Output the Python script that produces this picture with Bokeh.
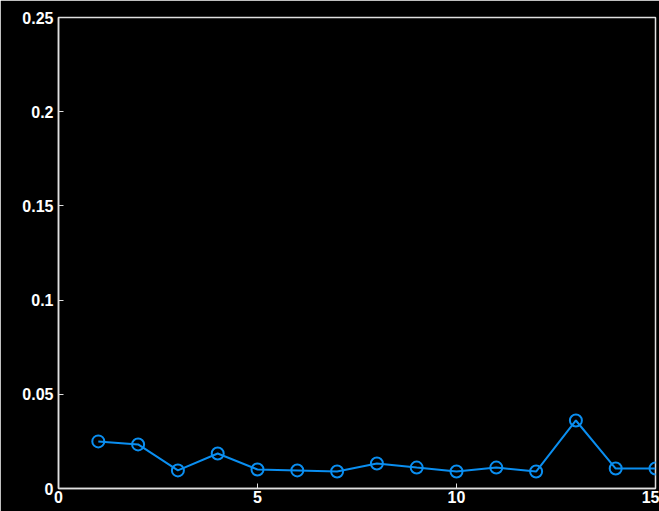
from bokeh.plotting import figure
from bokeh.embed import file_html
from bokeh.resources import INLINE
from bokeh.models import Range1d, FixedTicker

x_vals = [1, 2, 3, 4, 5, 6, 7, 8, 9, 10, 11, 12, 13, 14, 15]
y_vals = [0.0250, 0.0234, 0.0096, 0.0186, 0.0101, 0.0096, 0.0090, 0.0133,
          0.0111, 0.0090, 0.0111, 0.0090, 0.0361, 0.0106, 0.0106]
x_ticks = [0, 5, 10, 15]
y_ticks = [0, 0.05, 0.1, 0.15, 0.2, 0.25]

p = figure(width=659, height=511, output_backend="svg", toolbar_location=None,
           x_range=Range1d(0, 15), y_range=Range1d(0, 0.25),
           min_border_left=58, min_border_top=17, min_border_right=4, min_border_bottom=23)
p.background_fill_color = "black"
p.border_fill_color = "black"
p.outline_line_color = "#e0e0e0"
p.outline_line_width = 1.5
p.grid.visible = False

p.line(x_vals, y_vals, line_color="#0a8ef0", line_width=2)
p.scatter(x_vals, y_vals, marker="circle", size=12, fill_color=None,
          line_color="#0a8ef0", line_width=2)

for ax in (p.xaxis[0], p.yaxis[0]):
    ax.axis_line_color = "#e0e0e0"
    ax.axis_line_width = 1.5
    ax.major_tick_line_color = "#e0e0e0"
    ax.major_tick_in = 5
    ax.major_tick_out = 0
    ax.minor_tick_line_color = None
    ax.major_label_text_color = "white"
    ax.major_label_text_font = "Liberation Sans"
    ax.major_label_text_font_style = "bold"
    ax.major_label_text_font_size = "16px"

p.xaxis[0].ticker = FixedTicker(ticks=x_ticks)
p.yaxis[0].ticker = FixedTicker(ticks=y_ticks)
p.xaxis[0].major_label_standoff = 2
p.yaxis[0].major_label_standoff = 5
p.xaxis[0].major_label_overrides = {0: "0", 5: "5", 10: "10", 15: "15"}
p.yaxis[0].major_label_overrides = {0: "0", 0.05: "0.05", 0.1: "0.1", 0.15: "0.15", 0.2: "0.2", 0.25: "0.25"}

open("out.html", "w").write(file_html(p, INLINE))
